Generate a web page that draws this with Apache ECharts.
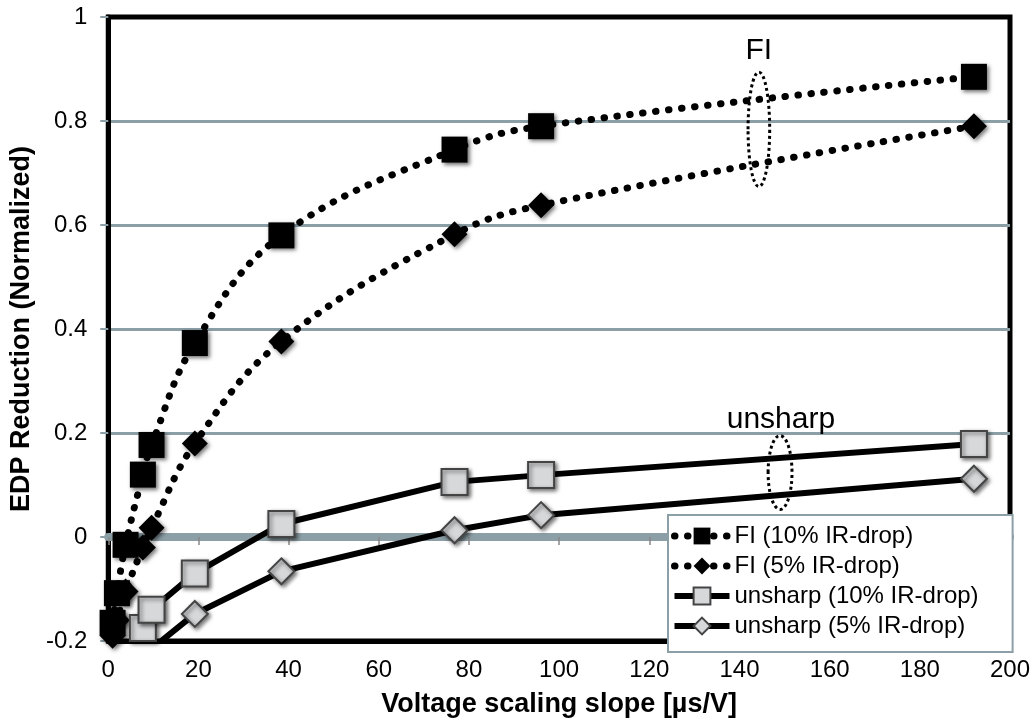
<!DOCTYPE html>
<html><head><meta charset="utf-8">
<script src="https://cdn.jsdelivr.net/npm/echarts@6/dist/echarts.min.js"></script>
<style>html,body{margin:0;padding:0;background:#fff}#c{width:1036px;height:726px}</style>
</head><body><div id="c"></div>
<script>
// ---- data ----
const xFI = [0.96, 1.92, 3.84, 7.68, 9.6, 19.2, 38.4, 76.8, 96, 192];
const fi10 = [-0.165, -0.108, -0.015, 0.12, 0.177, 0.373, 0.58, 0.745, 0.79, 0.885];
const fi5  = [-0.19, -0.16, -0.105, -0.02, 0.018, 0.18, 0.376, 0.582, 0.638, 0.79];
const xUn = [7.68, 9.6, 19.2, 38.4, 76.8, 96, 192];
const un10 = [-0.175, -0.14, -0.07, 0.025, 0.106, 0.119, 0.179];
const un5  = [-0.23, -0.215, -0.148, -0.066, 0.013, 0.042, 0.112];
const seriesNames = ['FI (10% IR-drop)', 'FI (5% IR-drop)', 'unsharp (10% IR-drop)', 'unsharp (5% IR-drop)'];
const xTitle = 'Voltage scaling slope [µs/V]';
const yTitle = 'EDP Reduction (Normalized)';
// annotation ellipses / labels in data coordinates [x, y, halfWidthData, halfHeightData]
const ellipseFI = [144.3, 0.784, 2.4, 0.11];
const ellipseUn = [149.0, 0.124, 2.65, 0.071];
const labelFI = ['FI', 144.3, 0.935];
const labelUn = ['unsharp', 149.2, 0.226];

const FONT = '"Liberation Sans", Arial, Helvetica, sans-serif';
const GRIDC = '#8c9fa6';
const chart = echarts.init(document.getElementById('c'), null, {renderer: 'canvas'});
const fiLine = {color: '#000', width: 7, type: [0.5, 12.5], cap: 'round'};
const shadow = {shadowBlur: 4, shadowColor: 'rgba(0,0,0,0.55)', shadowOffsetX: 2, shadowOffsetY: 2};
const pairs = (xs, ys) => xs.map((x, i) => [x, ys[i]]);

const option = {
  animation: false,
  grid: {left: 105, right: 26, top: 17, bottom: 85, show: true, borderColor: '#000', borderWidth: 5, backgroundColor: 'transparent'},
  xAxis: [{
    type: 'value', min: 0, max: 200, interval: 20, position: 'bottom',
    axisLine: {onZero: false, lineStyle: {color: '#000', width: 5}},
    axisTick: {show: false}, splitLine: {show: false},
    axisLabel: {fontSize: 24, color: '#000', margin: 17, fontFamily: FONT},
    name: xTitle, nameLocation: 'middle', nameGap: 50,
    nameTextStyle: {fontSize: 27, fontWeight: 'bold', color: '#000', fontFamily: FONT}
  }, {
    type: 'value', min: 0, max: 200, interval: 20, position: 'top',
    axisLine: {show: true, onZero: true, onZeroAxisIndex: 0, lineStyle: {color: GRIDC, width: 8}},
    axisTick: {show: true, inside: true, length: 8, lineStyle: {color: '#888', width: 1.5}},
    axisLabel: {show: false}, splitLine: {show: false}
  }],
  yAxis: {
    type: 'value', min: -0.2, max: 1, interval: 0.2,
    axisLine: {show: true, onZero: false, lineStyle: {color: '#000', width: 5}},
    axisTick: {show: true, length: 8, lineStyle: {color: GRIDC, width: 2}},
    splitLine: {show: true, showMinLine: false, showMaxLine: false, lineStyle: {color: GRIDC, width: 3}},
    axisLabel: {fontSize: 24, color: '#000', margin: 21, fontFamily: FONT},
    name: yTitle, nameLocation: 'middle', nameGap: 62, nameRotate: 90,
    nameTextStyle: {fontSize: 27, fontWeight: 'bold', color: '#000', fontFamily: FONT}
  },
  legend: {
    orient: 'vertical', left: 668, top: 515,
    itemWidth: 55, itemHeight: 21, itemGap: 6,
    padding: [9, 34, 14, 3],
    backgroundColor: '#fff', borderColor: GRIDC, borderWidth: 2,
    lineStyle: {width: 'inherit'},
    textStyle: {fontSize: 24, color: '#000', fontFamily: FONT},
    data: seriesNames
  },
  series: [{
    name: seriesNames[0], type: 'line', data: pairs(xFI, fi10), smooth: 0.4,
    symbol: 'rect', symbolSize: 26, lineStyle: fiLine,
    itemStyle: Object.assign({color: '#000'}, shadow), z: 3
  }, {
    name: seriesNames[1], type: 'line', data: pairs(xFI, fi5), smooth: 0.4,
    symbol: 'diamond', symbolSize: 26, lineStyle: fiLine,
    itemStyle: Object.assign({color: '#000'}, shadow), z: 3
  }, {
    name: seriesNames[2], type: 'line', data: pairs(xUn, un10),
    symbol: 'rect', symbolSize: 26, lineStyle: {color: '#000', width: 6},
    itemStyle: Object.assign({color: '#d6d8da', borderColor: '#444', borderWidth: 2}, shadow), z: 3
  }, {
    name: seriesNames[3], type: 'line', data: pairs(xUn, un5),
    symbol: 'diamond', symbolSize: 26, lineStyle: {color: '#000', width: 6},
    itemStyle: Object.assign({color: '#d6d8da', borderColor: '#444', borderWidth: 2}, shadow), z: 3
  }]
};
chart.setOption(option);

function px(x, y) { return chart.convertToPixel({xAxisIndex: 0, yAxisIndex: 0}, [x, y]); }
function ellipse(e) {
  const c = px(e[0], e[1]);
  const r = px(e[0] + e[2], e[1] + e[3]);
  return {type: 'ellipse', z: 10, shape: {cx: c[0], cy: c[1], rx: Math.abs(r[0] - c[0]), ry: Math.abs(c[1] - r[1])},
    style: {fill: 'none', stroke: '#000', lineWidth: 3, lineDash: [3, 3]}};
}
function label(l) {
  const c = px(l[1], l[2]);
  return {type: 'text', z: 10, x: c[0], y: c[1],
    style: {text: l[0], font: '30px ' + FONT, fill: '#000', align: 'center', verticalAlign: 'middle'}};
}
chart.setOption({graphic: [ellipse(ellipseFI), ellipse(ellipseUn), label(labelFI), label(labelUn)]});
</script>
</body></html>
